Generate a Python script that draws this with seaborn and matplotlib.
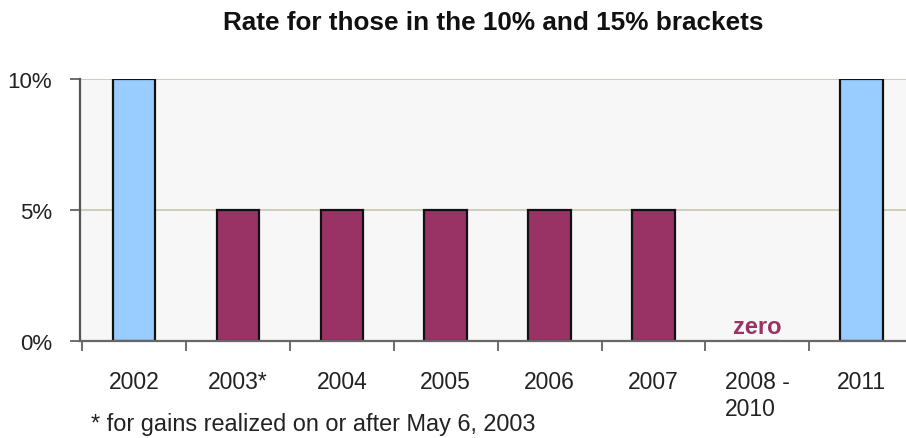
import matplotlib
matplotlib.use("Agg")
import matplotlib.pyplot as plt
import seaborn as sns
import pandas as pd
from matplotlib.ticker import FixedLocator, NullFormatter

# Capital gains tax rate by year for the 10% and 15% brackets
years = ["2002", "2003*", "2004", "2005", "2006", "2007", "2008 -\n2010", "2011"]
rates = [10, 5, 5, 5, 5, 5, 0, 10]
bar_colors = ["#99ccff", "#993366", "#993366", "#993366", "#993366", "#993366", "#993366", "#99ccff"]

title = "Rate for those in the 10% and 15% brackets"
footnote = "* for gains realized on or after May 6, 2003"
zero_label = "zero"

sns.set_theme(style="white")
plt.rcParams["font.family"] = ["Liberation Sans", "DejaVu Sans"]

df = pd.DataFrame({"year": years, "rate": rates})

fig = plt.figure(figsize=(9.06, 4.39), dpi=100)
ax = fig.add_axes([0.0883, 0.221, 0.9117, 0.597])
ax.set_facecolor("#f7f7f7")

sns.barplot(data=df, x="year", y="rate", hue="year", palette=bar_colors,
            order=years, hue_order=years, width=0.41, legend=False, saturation=1,
            edgecolor="#111111", linewidth=1.6, ax=ax, zorder=3)

ax.set_ylim(0, 10)
ax.set_xlim(-0.52, 7.43)
ax.set_yticks([0, 5, 10])
ax.set_yticklabels(["0%", "5%", "10%"])
ax.yaxis.grid(True, color="#c6c6b0", linewidth=1.2, zorder=0)
ax.set_axisbelow(True)

# category boundaries carry the x tick marks; labels sit at centres
ax.xaxis.set_major_locator(FixedLocator(range(len(years))))
ax.set_xticklabels(years, multialignment="left")
ax.xaxis.set_minor_locator(FixedLocator([i + 0.5 for i in range(-1, len(years))]))
ax.xaxis.set_minor_formatter(NullFormatter())
ax.tick_params(axis="x", which="major", length=0, pad=21, labelsize=16.5, labelcolor="#222222")
ax.tick_params(axis="x", which="minor", bottom=True, length=7, width=1.2, color="#555555", direction="out")
ax.tick_params(axis="y", left=True, length=7, width=1.2, color="#555555", labelsize=16,
               labelcolor="#222222", pad=13)

ax.set_xlabel("")
ax.set_ylabel("")
for side in ("top", "right"):
    ax.spines[side].set_visible(False)
ax.spines["left"].set_color("#555555")
ax.spines["left"].set_linewidth(1.6)
ax.spines["bottom"].set_color("#666666")
ax.spines["bottom"].set_linewidth(1.6)
ax.spines["bottom"].set_zorder(4)

zero_idx = years.index("2008 -\n2010")
ax.text(zero_idx, 0.1, zero_label, ha="center", va="bottom", color="#993366",
        fontsize=17, fontweight="bold", zorder=5)

fig.text(0.544, 0.948, title, ha="center", va="center", fontsize=18.8, fontweight="bold", color="#111111")
fig.text(0.100, 0.032, footnote, ha="left", va="center", fontsize=16.9, color="#222222")

fig.savefig("out.png", dpi=100)
